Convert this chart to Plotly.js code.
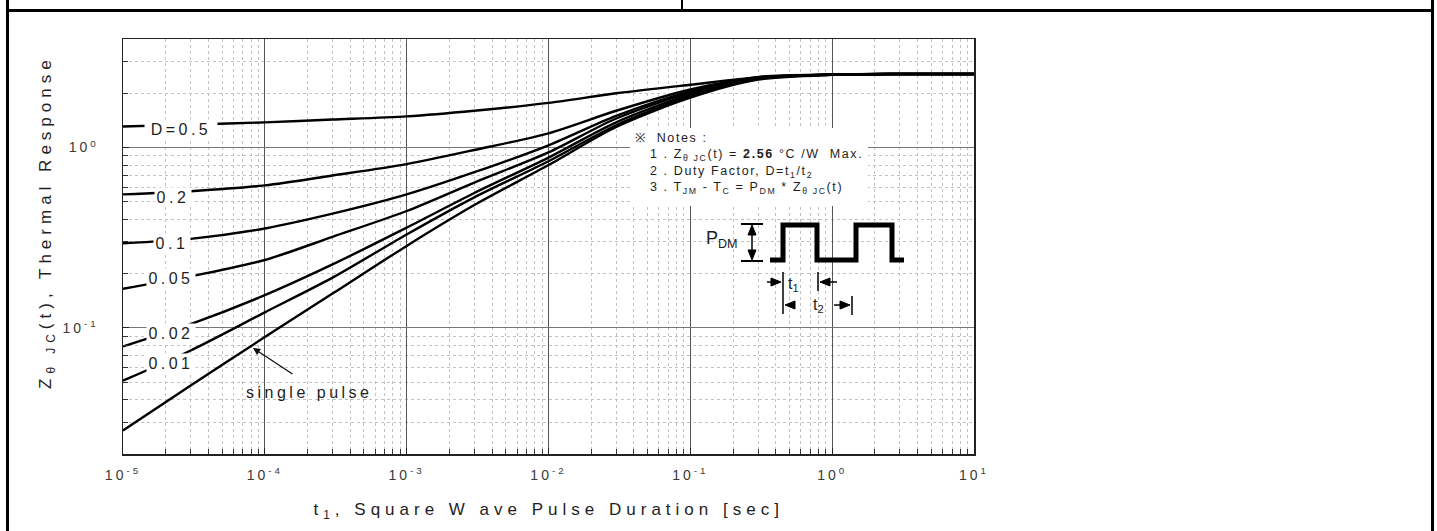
<!DOCTYPE html>
<html><head><meta charset="utf-8">
<script src="https://cdn.plot.ly/plotly-3.0.1.min.js"></script>
<style>
html,body{margin:0;padding:0;background:#fff;}
#wrap{position:relative;width:1437px;height:531px;overflow:hidden;background:#fff;}
#chart{position:absolute;left:0;top:0;width:1437px;height:531px;}
.frame{position:absolute;background:#000;pointer-events:none;}
#chart .xtick text,#chart .ytick text{letter-spacing:3px;}
#chart g.annotation[data-index="0"] text,#chart g.annotation[data-index="1"] text,#chart g.annotation[data-index="2"] text,
#chart g.annotation[data-index="3"] text,#chart g.annotation[data-index="4"] text,#chart g.annotation[data-index="5"] text,
#chart g.annotation[data-index="6"] text{letter-spacing:3.5px;}
#chart g.annotation[data-index="8"] text,#chart g.annotation[data-index="9"] text,#chart g.annotation[data-index="10"] text,
#chart g.annotation[data-index="11"] text{letter-spacing:1.6px;}
#chart g.annotation[data-index="15"] text,#chart g.annotation[data-index="16"] text{letter-spacing:5px;}
</style></head>
<body><div id="wrap"><div id="chart"></div>
<div class="frame" style="left:6px;top:0;width:3px;height:531px"></div>
<div class="frame" style="left:6px;top:9px;width:1428px;height:3px"></div>
<div class="frame" style="left:1431px;top:0;width:3px;height:531px"></div>
<div class="frame" style="left:681px;top:0;width:2px;height:10px"></div>
</div>
<script>
// ---- data ----
const t = [1e-5, 3e-5, 1e-4, 3e-4, 1e-3, 3e-3, 1e-2, 3e-2, 0.1, 0.3, 1, 3, 10];
const zD05   = [1.31, 1.34, 1.38, 1.43, 1.49, 1.60, 1.77, 2.00, 2.23, 2.45, 2.53, 2.56, 2.56];
const zD02   = [0.55, 0.573, 0.617, 0.70, 0.81, 0.97, 1.20, 1.60, 2.10, 2.46, 2.54, 2.56, 2.56];
const zD01   = [0.295, 0.312, 0.356, 0.43, 0.55, 0.73, 1.03, 1.50, 2.05, 2.45, 2.54, 2.56, 2.56];
const zD005  = [0.165, 0.193, 0.238, 0.32, 0.445, 0.64, 0.94, 1.45, 2.02, 2.43, 2.54, 2.56, 2.56];
const zD002  = [0.079, 0.105, 0.152, 0.225, 0.36, 0.56, 0.88, 1.38, 1.97, 2.42, 2.54, 2.56, 2.56];
const zD001  = [0.051, 0.075, 0.122, 0.19, 0.33, 0.53, 0.84, 1.33, 1.93, 2.40, 2.54, 2.56, 2.56];
const zSingle= [0.027, 0.048, 0.089, 0.155, 0.285, 0.48, 0.80, 1.30, 1.89, 2.38, 2.53, 2.56, 2.56];
const series = [zD05, zD02, zD01, zD005, zD002, zD001, zSingle];
const curveLabels = ['D=0.5', '0.2', '0.1', '0.05', '0.02', '0.01', 'single pulse'];
const xTickVals = [1e-5, 1e-4, 1e-3, 1e-2, 1e-1, 1, 10];
const xTickText = ['10<sup>-5</sup>','10<sup>-4</sup>','10<sup>-3</sup>','10<sup>-2</sup>','10<sup>-1</sup>','10<sup>0</sup>','10<sup>1</sup>'];
const yTickVals = [0.1, 1];
const yTickText = ['10<sup>-1</sup>','10<sup>0</sup>'];
const xTitle = 't<sub>1</sub>, Square W ave Pulse Duration [sec]';
const yTitle = 'Z<sub>θ JC</sub>(t), Thermal Response';
const notes = ['※  Notes :',
  '1 . Z<sub>θ JC</sub>(t) = <b>2.56</b> °C /W  Max.',
  '2 . Duty Factor, D=t<sub>1</sub>/t<sub>2</sub>',
  '3 . T<sub>JM</sub> - T<sub>C</sub> = P<sub>DM</sub> * Z<sub>θ JC</sub>(t)'];

// ---- layout helpers (pixel -> paper) ----
const L=123, R=974, T=39, B=454;
const PX = x => (x-L)/(R-L), PY = y => (B-y)/(B-T);
const path = (pts, close) => 'M' + pts.map(p => PX(p[0]) + ',' + PY(p[1])).join(' L') + (close ? ' Z' : '');
const FONT = '"Liberation Sans", Arial, sans-serif';
const TXT = '#1e1e1e';

const traces = series.map((z, i) => ({
  x: t, y: z, type: 'scatter', mode: 'lines', name: curveLabels[i],
  line: {color: '#000', width: 2.4, shape: 'spline', smoothing: 0.8},
  hoverinfo: 'skip'
}));

const labelPos = [[181,129],[173,197],[172,243],[171,278],[171,333],[171,363],[309,392]];
const labelW = [72, 36, 36, 48, 48, 48, 0];
const ann = labelPos.map((p, i) => {
  const a = {xref:'paper', yref:'paper', x:PX(p[0]), y:PY(p[1]), text: curveLabels[i], showarrow:false,
    xanchor:'center', yanchor:'middle', font:{family:FONT, size:16, color:TXT}};
  if (labelW[i]) { a.width = labelW[i]; a.height = 18; a.bgcolor = '#fff'; a.borderpad = 0; }
  return a;
});
// arrow to single pulse
ann.push({xref:'paper', yref:'paper', x:PX(253), y:PY(348), ax:41, ay:27, axref:'pixel', ayref:'pixel',
  text:'', showarrow:true, arrowhead:2, arrowsize:1.1, arrowwidth:1.3, arrowcolor:'#111'});
// notes
const noteY = [138, 155, 172, 188];
notes.forEach((s, i) => ann.push({xref:'paper', yref:'paper', x:PX(i===0 ? 633 : 648), y:PY(noteY[i]),
  text:s, showarrow:false, xanchor:'left', yanchor:'middle', align:'left',
  font:{family:FONT, size:12.5, color:TXT}}));
// pulse diagram labels
ann.push({xref:'paper', yref:'paper', x:PX(704), y:PY(240), text:'P<sub>DM</sub>', showarrow:false,
  xanchor:'left', font:{family:FONT, size:18, color:TXT}});
ann.push({xref:'paper', yref:'paper', x:PX(801), y:PY(284), text:'t<sub>1</sub>', showarrow:false,
  font:{family:FONT, size:16, color:TXT}});
ann.push({xref:'paper', yref:'paper', x:PX(826), y:PY(305), text:'t<sub>2</sub>', showarrow:false,
  font:{family:FONT, size:16, color:TXT}});
// axis titles (index 15, 16)
ann.push({xref:'paper', yref:'paper', x:PX(548), y:PY(511), text:xTitle, showarrow:false,
  xanchor:'center', yanchor:'middle', font:{family:FONT, size:17, color:TXT}});
ann.push({xref:'paper', yref:'paper', x:PX(47), y:PY(222), text:yTitle, showarrow:false, textangle:-90,
  xanchor:'center', yanchor:'middle', font:{family:FONT, size:17, color:TXT}});

const ln = (x0,y0,x1,y1,w) => ({type:'line', xref:'paper', yref:'paper', x0:PX(x0), y0:PY(y0), x1:PX(x1), y1:PY(y1),
  line:{color:'#000', width:w}});
const tri = pts => ({type:'path', xref:'paper', yref:'paper', path:path(pts, true), fillcolor:'#000', line:{color:'#000', width:1}});
const shapes = [
  {type:'rect', xref:'paper', yref:'paper', x0:PX(630), x1:PX(868), y0:PY(206), y1:PY(128),
   fillcolor:'#fff', line:{width:0}, layer:'above'},
  {type:'path', xref:'paper', yref:'paper', line:{color:'#000', width:5},
   path: path([[770,260],[783,260],[783,225],[817,225],[817,260],[856,260],[856,225],[892,225],[892,260],[904,260]])},
  ln(741,224,763,224,2), ln(741,261,763,261,2), ln(752,230,752,255,1.5),
  tri([[752,225],[748,235],[756,235]]), tri([[752,260],[748,250],[756,250]]),
  ln(783,272,783,314,1.5), ln(818,272,818,291,1.5),
  ln(767,282,772,282,1.5), tri([[781,282],[771,278],[771,286]]),
  ln(830,282,837,282,1.5), tri([[820,282],[830,278],[830,286]]),
  tri([[785,305],[795,301],[795,309]]),
  ln(852,296,852,315,1.5), tri([[850,305],[840,301],[840,309]]), ln(834,305,842,305,1.5)
];

const axCommon = {
  type:'log', showline:true, linecolor:'#222', linewidth:1.5, mirror:true, zeroline:false,
  tickmode:'array', ticks:'inside', ticklen:6, tickcolor:'#222',
  showgrid:true, gridcolor:'#555', gridwidth:1,
  tickfont:{family:FONT, size:14, color:'#3a3a3a'},
  minor:{dtick:'D1', ticks:'inside', ticklen:5, tickcolor:'#333', showgrid:true,
         gridcolor:'#c2c2c2', griddash:'dot', gridwidth:1}
};
const layout = {
  width:1437, height:531, paper_bgcolor:'rgba(0,0,0,0)', plot_bgcolor:'#fff',
  margin:{l:L, r:1437-R, t:T, b:531-B}, showlegend:false,
  xaxis: Object.assign({}, axCommon, {range:[-5,1], tickvals:xTickVals, ticktext:xTickText, ticklabelstandoff:8}),
  yaxis: Object.assign({}, axCommon, {range:[Math.log10(0.02), Math.log10(4)], tickvals:yTickVals, ticktext:yTickText, ticklabelstandoff:20,
         gridcolor:'#777'}),
  annotations: ann, shapes: shapes
};
Plotly.newPlot('chart', traces, layout, {displayModeBar:false, staticPlot:true});
</script></body></html>
